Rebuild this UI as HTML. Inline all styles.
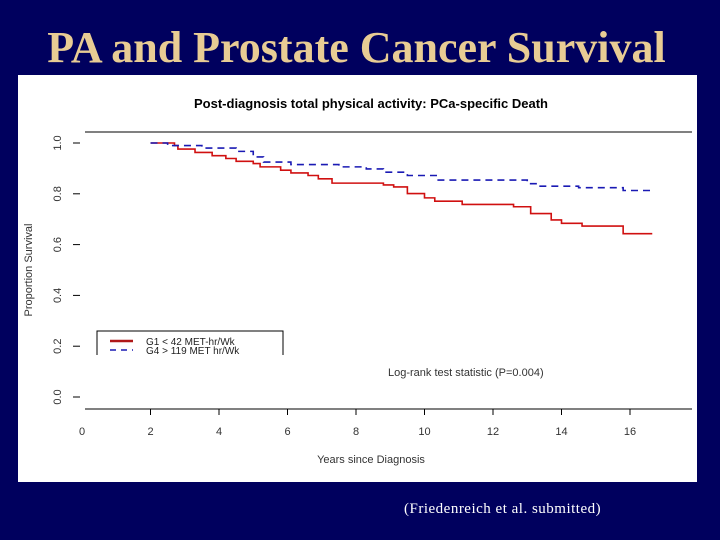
<!DOCTYPE html>
<html><head><meta charset="utf-8"><style>
body{margin:0;width:720px;height:540px;background:#00005e;overflow:hidden;position:relative;font-family:"Liberation Sans",sans-serif}
#title{position:absolute;left:0;top:23px;width:713px;text-align:center;font-family:"Liberation Serif",serif;font-size:44px;font-weight:bold;color:#e8cc94;line-height:50px}
#panel{position:absolute;left:18px;top:75px;width:679px;height:407px;background:#fff}
#foot{position:absolute;left:404px;top:501px;font-family:"Liberation Serif",serif;font-size:15px;color:#fff;letter-spacing:0.5px}
</style></head><body>
<div id="title">PA and Prostate Cancer Survival</div>
<div id="panel"></div>
<svg id="chart" width="720" height="540" style="position:absolute;left:0;top:0"></svg>
<div id="foot">(Friedenreich et al. submitted)</div>
<script>
const xTicks=[0,2,4,6,8,10,12,14,16];
const yTicks=[0,0.2,0.4,0.6,0.8,1.0];
const yTickLabels=["0.0","0.2","0.4","0.6","0.8","1.0"];
const redTimes=[2.0,2.7,2.8,3.3,3.8,4.2,4.5,5.0,5.2,5.8,6.1,6.6,6.9,7.3,8.8,9.1,9.5,10.0,10.3,11.1,12.6,13.1,13.7,14.0,14.6,15.8];
const redValues=[1.0,0.99,0.976,0.963,0.95,0.939,0.928,0.919,0.906,0.893,0.882,0.872,0.859,0.842,0.835,0.827,0.801,0.784,0.771,0.758,0.749,0.722,0.697,0.684,0.673,0.643];
const redEnd=16.65;
const blueTimes=[2.0,2.5,3.5,4.5,5.0,5.3,6.1,7.5,8.3,8.8,9.5,10.4,13.0,13.3,14.5,15.8];
const blueValues=[1.0,0.99,0.98,0.967,0.945,0.925,0.915,0.906,0.898,0.885,0.872,0.854,0.84,0.83,0.824,0.813];
const blueEnd=16.65;
const NS="http://www.w3.org/2000/svg";
const svg=document.getElementById('chart');
const X=t=>82+t*34.25;
const Y=v=>397-v*254;
function mk(tag,at,txt){const e=document.createElementNS(NS,tag);for(const k in at)e.setAttribute(k,at[k]);if(txt!=null)e.textContent=txt;svg.appendChild(e);return e;}
let e;
e=mk('text',{x:371,y:108,'text-anchor':'middle','font-size':13,'font-weight':'bold',fill:'#000'},'Post-diagnosis total physical activity: PCa-specific Death');


e=mk('line',{x1:85,x2:692,y1:132,y2:132,stroke:'#000','stroke-width':1});


e=mk('line',{x1:85,x2:692,y1:409,y2:409,stroke:'#000','stroke-width':1});


xTicks.forEach(t=>{
 if(t>0){e=mk('line',{x1:X(t),x2:X(t),y1:409,y2:415,stroke:'#000'});
 
 }
 e=mk('text',{x:X(t),y:435,'text-anchor':'middle','font-size':11,fill:'#333'},String(t));
 
 
});
yTicks.forEach((v,i)=>{
 e=mk('line',{x1:73,x2:80,y1:Y(v),y2:Y(v),stroke:'#000'});
 
 
 e=mk('text',{x:61,y:Y(v),'text-anchor':'middle','font-size':11,fill:'#333',transform:`rotate(-90 61 ${Y(v)})`},yTickLabels[i]);
 
 
});
e=mk('text',{x:32,y:270,'text-anchor':'middle','font-size':11,fill:'#333',transform:'rotate(-90 32 270)'},'Proportion Survival');


e=mk('text',{x:371,y:463,'text-anchor':'middle','font-size':11,fill:'#333'},'Years since Diagnosis');


function stepPath(ts,vs,end){let d=`M${X(ts[0])},${Y(vs[0])}`;for(let i=1;i<ts.length;i++){d+=`H${X(ts[i])}V${Y(vs[i])}`;}d+=`H${X(end)}`;return d;}
e=mk('path',{d:stepPath(redTimes,redValues,redEnd),fill:'none',stroke:'#d01010','stroke-width':1.6});


e=mk('path',{d:stepPath(blueTimes,blueValues,blueEnd),fill:'none',stroke:'#1a1ab4','stroke-width':1.6,'stroke-dasharray':'7 5'});


e=mk('path',{d:'M97,355V331H283V355',fill:'none',stroke:'#000','stroke-width':1});


e=mk('line',{x1:110,x2:133,y1:341,y2:341,stroke:'#b01818','stroke-width':2.5});


e=mk('line',{x1:110,x2:133,y1:350,y2:350,stroke:'#1a1ab4','stroke-width':1.5,'stroke-dasharray':'6 5'});


e=mk('text',{x:146,y:345,'font-size':10,fill:'#222'},'G1 < 42 MET-hr/Wk');


e=mk('text',{x:146,y:354,'font-size':10,fill:'#222'},'G4 > 119 MET hr/Wk');


e=mk('text',{x:388,y:376,'font-size':11,fill:'#333'},'Log-rank test statistic (P=0.004)');


</script>
</body></html>
